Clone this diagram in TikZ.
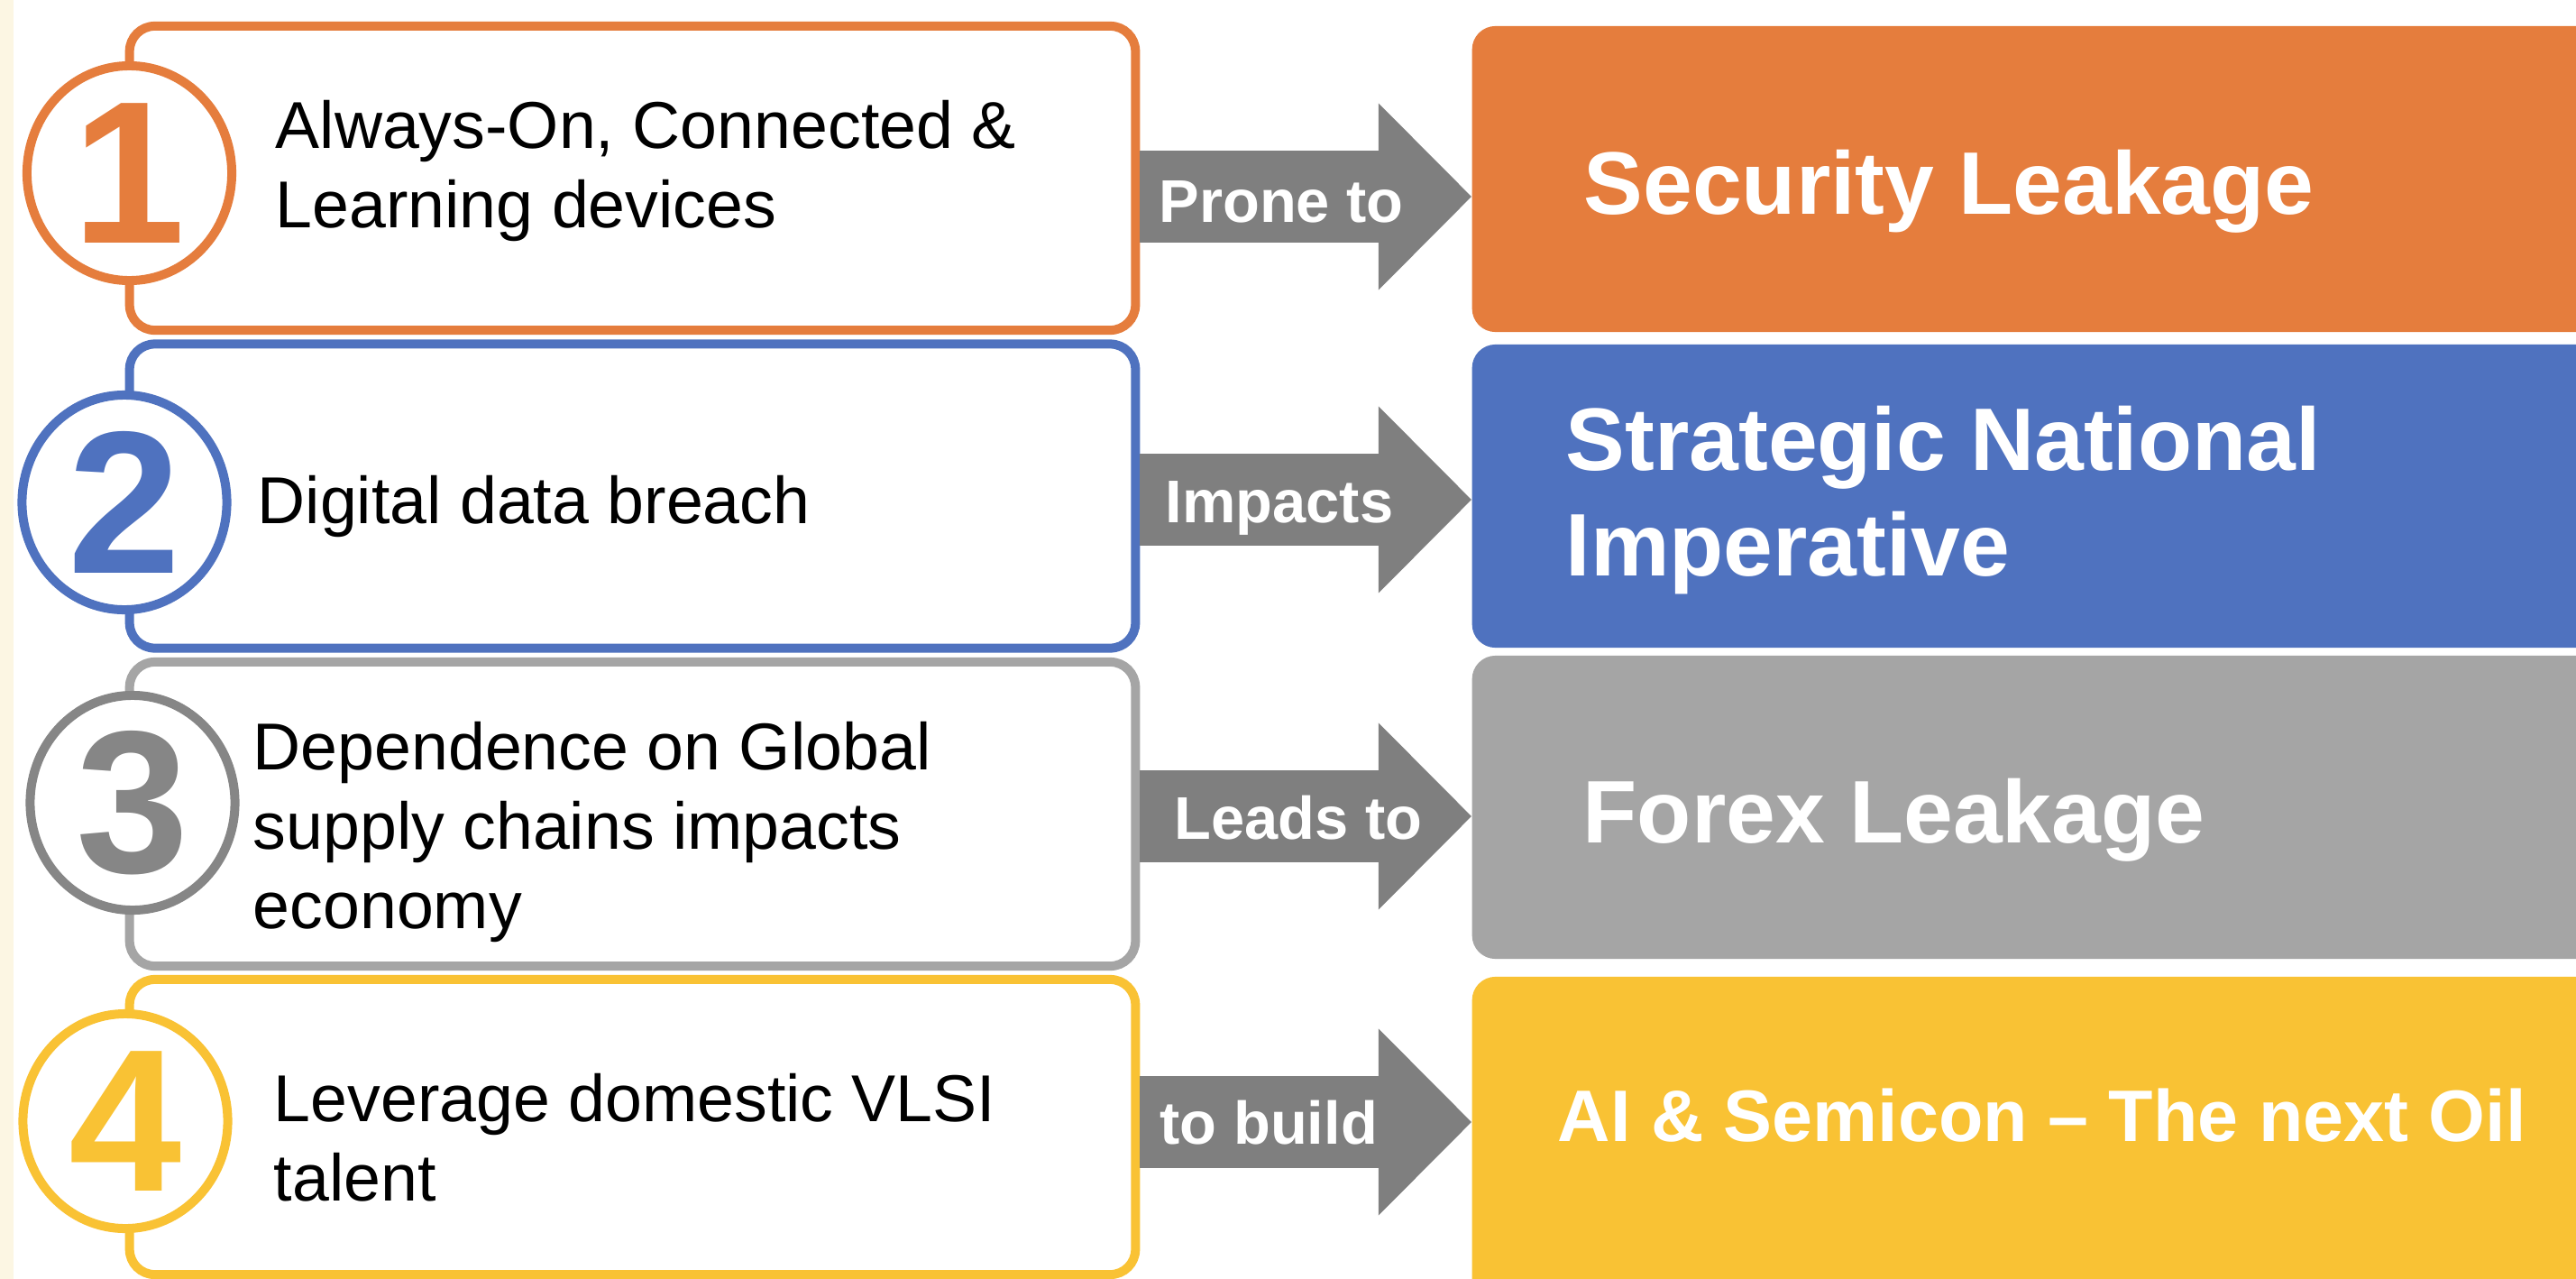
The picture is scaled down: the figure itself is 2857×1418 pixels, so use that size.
\documentclass[tikz,border=0pt]{standalone}
\usepackage{fontspec}
\setmainfont{Liberation Sans}
\usepackage{xcolor}
\usetikzlibrary{shapes.geometric,arrows.meta}

\definecolor{rowone}{HTML}{E57D3D}
\definecolor{rowtwo}{HTML}{4F72BF}
\definecolor{rowthree}{HTML}{A5A5A5}
\definecolor{ringthree}{HTML}{868686}
\definecolor{rowfour}{HTML}{F9C234}
\definecolor{linkgray}{HTML}{7F7F7F}
\definecolor{margincream}{HTML}{FCF6E3}

\newcommand{\causefont}{\fontsize{20.9pt}{25pt}\selectfont}
\newcommand{\effectfont}{\fontsize{28pt}{33pt}\selectfont\bfseries}
\newcommand{\linkfont}{\fontsize{19pt}{22pt}\selectfont\bfseries}
\newcommand{\numfont}{\fontsize{64pt}{70pt}\selectfont\bfseries}

\tikzset{
  causebox/.style={draw=#1, line width=0.1cm, fill=white, rounded corners=0.28cm,
    minimum width=11.15cm, minimum height=3.37cm, inner sep=0},
  effectbox/.style={fill=#1, rounded corners=0.26cm, minimum width=13.17cm, inner sep=0},
  numring/.style={ellipse, draw=#1, text=#1, line width=0.1cm, fill=white,
    minimum width=2.27cm, minimum height=2.38cm, inner sep=0, font=\numfont},
  % base of a multi-line node is its last line
  causetext/.style={anchor=base west, align=left, inner sep=0, font=\causefont},
  effecttext/.style={anchor=base west, align=left, inner sep=0, text=white, font=\effectfont},
  linkarrow/.style={draw=linkgray, line width=1.02cm,
    -{Triangle[length=1.03cm, width=2.07cm, line width=0pt]}},
  linklabel/.style={anchor=base west, inner sep=0, text=white, font=\linkfont}
}

\begin{document}
\begin{tikzpicture}[x=0.01cm, y=-0.01cm]
  \useasboundingbox (0,0) rectangle (2857,1418);
  \clip (0,0) rectangle (2857,1418);
  \fill[white] (0,0) rectangle (2857,1418);
  \fill[margincream] (0,0) rectangle (15,1418);

  % causes
  \node (cause1) [causebox=rowone] at (701.5,197.5) {};
  \node (cause2) [causebox=rowtwo] at (701.5,550) {};
  \node (cause3) [causebox=rowthree] at (701.5,902.5) {};
  \node (cause4) [causebox=rowfour, minimum height=3.27cm] at (701.5,1249.5) {};

  \node (num1) [numring=rowone] at (143.5,192) {1};
  \node (num2) [numring=rowtwo] at (138,557) {2};
  \node (num3) [numring=ringthree] at (147,890) {3};
  \node (num4) [numring=rowfour] at (139,1243) {4};

  \node (cause1txt) [causetext] at (305,252) {Always-On, Connected \&\\Learning devices};
  \node (cause2txt) [causetext] at (285,580) {Digital data breach};
  \node (cause3txt) [causetext] at (280,1029) {Dependence on Global\\supply chains impacts\\economy};
  \node (cause4txt) [causetext] at (303,1331) {Leverage domestic VLSI\\talent};

  % effects
  \node (effect1) [effectbox=rowone, minimum height=3.39cm] at (2291.5,198.5) {};
  \node (effect2) [effectbox=rowtwo, minimum height=3.36cm] at (2291.5,550) {};
  \node (effect3) [effectbox=rowthree, minimum height=3.36cm] at (2291.5,895) {};
  \node (effect4) [effectbox=rowfour, minimum height=3.67cm] at (2291.5,1266.5) {};

  \node (effect1txt) [effecttext] at (1756,237) {Security Leakage};
  \node (effect2txt) [effecttext] at (1736,638) {Strategic National\\Imperative};
  \node (effect3txt) [effecttext] at (1755,934) {Forex Leakage};
  \node (effect4txt) [effecttext, font=\fontsize{23pt}{27pt}\selectfont\bfseries]
    at (1727,1265) {AI \& Semicon -- The next Oil};

  % links between them
  \draw[linkarrow] (cause1.east |- 0,218) -- (effect1.west |- 0,218);
  \draw[linkarrow] (cause2.east |- 0,554) -- (effect2.west |- 0,554);
  \draw[linkarrow] (cause3.east |- 0,905) -- (effect3.west |- 0,905);
  \draw[linkarrow] (cause4.east |- 0,1244) -- (effect4.west |- 0,1244);

  \node (link1) [linklabel] at (1285,246) {Prone to};
  \node (link2) [linklabel] at (1292,579) {Impacts};
  \node (link3) [linklabel] at (1302,930) {Leads to};
  \node (link4) [linklabel] at (1286,1268) {to build};
\end{tikzpicture}
\end{document}
